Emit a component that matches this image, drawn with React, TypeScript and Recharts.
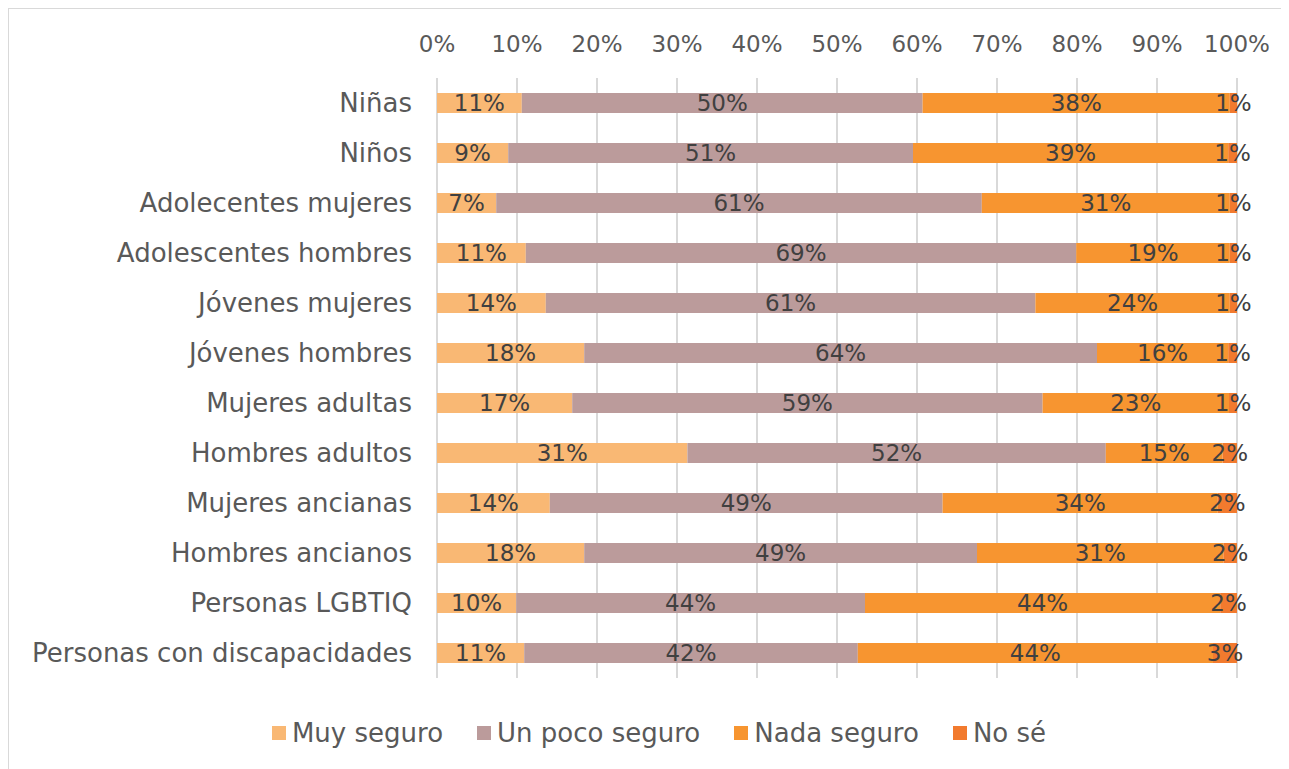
import React from "react";
import { BarChart, Bar, XAxis, YAxis, CartesianGrid, Legend, LabelList } from "recharts";

const categories = [
  "Niñas",
  "Niños",
  "Adolecentes mujeres",
  "Adolescentes hombres",
  "Jóvenes mujeres",
  "Jóvenes hombres",
  "Mujeres adultas",
  "Hombres adultos",
  "Mujeres ancianas",
  "Hombres ancianos",
  "Personas LGBTIQ",
  "Personas con discapacidades",
];
const muySeguro = [10.6, 8.9, 7.4, 11.1, 13.6, 18.4, 16.9, 31.3, 14.1, 18.4, 9.9, 10.9];
const unPocoSeguro = [50.1, 50.6, 60.7, 68.8, 61.2, 64.1, 58.8, 52.3, 49.1, 49.1, 43.6, 41.7];
const nadaSeguro = [38.4, 39.4, 31.0, 19.2, 24.3, 16.4, 23.3, 14.6, 34.4, 30.8, 44.4, 44.4];
const noSe = [0.9, 1.1, 0.9, 0.9, 0.9, 1.1, 1.0, 1.8, 2.4, 1.7, 2.1, 3.0];
const xTicks = [0, 10, 20, 30, 40, 50, 60, 70, 80, 90, 100];

const seriesNames = ["Muy seguro", "Un poco seguro", "Nada seguro", "No sé"];
const colors = ["#F9B874", "#BB9B9B", "#F79530", "#F27A2E"];
const keys = ["muy", "poco", "nada", "nose"];

const data = categories.map((name, i) => ({
  name,
  muy: muySeguro[i],
  poco: unPocoSeguro[i],
  nada: nadaSeguro[i],
  nose: noSe[i],
}));

const FONT = "'DejaVu Sans', sans-serif";
const fmt = (v: any) => `${Math.round(Number(v))}%`;

const LegendContent = () => (
  <div
    style={{
      display: "flex",
      justifyContent: "center",
      alignItems: "center",
      paddingTop: 40,
      paddingLeft: 72,
      fontFamily: FONT,
      fontSize: 26,
      color: "#595959",
      lineHeight: "30px",
    }}
  >
    {seriesNames.map((n, i) => (
      <div key={n} style={{ display: "flex", alignItems: "center", marginRight: i < 3 ? 34 : 0 }}>
        <span
          style={{
            display: "inline-block",
            width: 14,
            height: 14,
            background: colors[i],
            marginRight: 6,
          }}
        />
        <span>{n}</span>
      </div>
    ))}
  </div>
);

export default function App() {
  return (
    <div
      style={{
        width: 1300,
        height: 780,
        border: "1px solid #d9d9d9",
        boxSizing: "border-box",
        background: "#fff",
        fontFamily: FONT,
      }}
    >
      <BarChart
        width={1290}
        height={770}
        data={data}
        layout="vertical"
        margin={{ top: 0, right: 62, bottom: 0, left: 0 }}
        barSize={20}
      >
        <CartesianGrid horizontal={false} vertical={true} stroke="#d9d9d9" strokeWidth={2} />
        <XAxis
          type="number"
          orientation="top"
          domain={[0, 100]}
          ticks={xTicks}
          tickFormatter={(v) => `${v}%`}
          axisLine={false}
          tickLine={false}
          height={69}
          tickMargin={20}
          tick={{ fill: "#595959", fontSize: 23, fontFamily: FONT }}
          interval={0}
        />
        <YAxis
          type="category"
          dataKey="name"
          width={428}
          axisLine={false}
          tickLine={false}
          tick={{ fill: "#595959", fontSize: 26, fontFamily: FONT }}
          tickMargin={19}
          interval={0}
        />
        <Legend verticalAlign="bottom" height={101} content={<LegendContent />} />
        {keys.map((k, i) => (
          <Bar
            key={k}
            dataKey={k}
            name={seriesNames[i]}
            stackId="a"
            fill={colors[i]}
            isAnimationActive={false}
          >
            <LabelList
              dataKey={k}
              position="center"
              formatter={fmt}
              style={{ fill: "#404040", fontSize: 23, fontFamily: FONT }}
            />
          </Bar>
        ))}
      </BarChart>
    </div>
  );
}
